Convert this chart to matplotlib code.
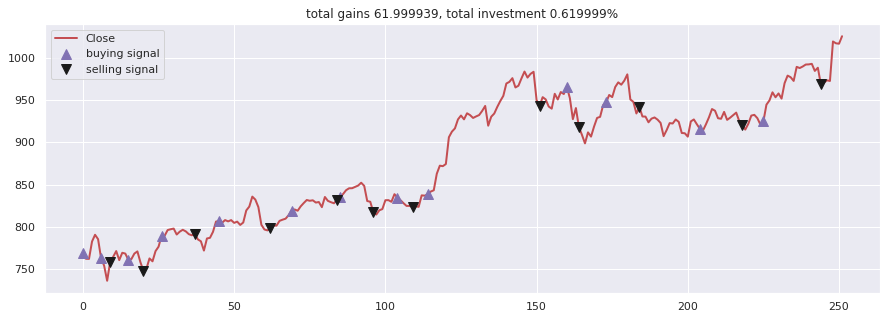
import matplotlib
matplotlib.use("Agg")
import matplotlib.pyplot as plt
import seaborn as sns

close = [
    768.70, 762.13, 762.02, 782.52, 790.51, 785.31, 762.56, 754.02, 736.08, 758.49,
    764.48, 771.23, 760.54, 769.20, 768.27, 760.99, 761.68, 768.24, 770.84, 758.04,
    747.92, 750.50, 762.52, 759.11, 771.19, 776.42, 789.29, 789.27, 796.10, 797.07,
    797.85, 790.80, 794.20, 796.42, 794.56, 791.26, 789.91, 791.55, 785.05, 782.79,
    771.82, 786.14, 786.90, 794.02, 806.15, 806.65, 804.79, 807.91, 806.36, 807.88,
    804.61, 806.07, 802.17, 805.02, 819.31, 823.87, 835.67, 832.15, 823.31, 802.32,
    796.79, 795.70, 798.53, 801.49, 801.34, 806.97, 808.38, 809.56, 813.67, 819.24,
    820.45, 818.98, 824.16, 828.07, 831.66, 830.76, 831.33, 828.64, 829.28, 823.21,
    835.24, 830.63, 829.08, 827.78, 831.91, 835.37, 838.68, 843.25, 845.54, 845.62,
    847.20, 848.78, 852.12, 848.40, 830.46, 829.59, 817.58, 814.43, 819.51, 820.92,
    831.41, 831.50, 829.56, 838.55, 834.57, 831.41, 827.88, 824.67, 824.73, 823.35,
    824.32, 823.56, 837.17, 836.82, 838.21, 841.65, 843.19, 862.76, 872.30, 871.73,
    874.25, 905.96, 912.57, 916.44, 927.04, 931.66, 927.13, 934.30, 932.17, 928.78,
    930.60, 932.22, 937.08, 943.00, 919.62, 930.24, 934.01, 941.86, 948.82, 954.96,
    969.54, 971.47, 975.88, 964.86, 966.95, 975.60, 983.68, 976.57, 980.94, 983.41,
    949.83, 942.90, 953.40, 950.76, 942.31, 939.78, 957.37, 950.63, 959.45, 957.09,
    965.59, 952.27, 927.33, 940.49, 917.79, 908.73, 898.70, 911.71, 906.69, 918.59,
    928.80, 930.09, 943.83, 947.16, 955.99, 953.42, 965.40, 970.89, 968.15, 972.92,
    980.34, 950.70, 947.80, 934.09, 941.53, 930.50, 930.39, 923.65, 927.96, 929.36,
    926.79, 922.90, 907.24, 914.39, 922.67, 922.22, 926.96, 924.14, 910.98, 910.67,
    906.66, 924.69, 927.00, 921.28, 915.89, 913.81, 921.29, 929.57, 939.33, 937.34,
    928.45, 927.81, 935.95, 926.50, 929.08, 932.07, 935.09, 925.11, 920.29, 915.00,
    921.81, 931.58, 932.45, 928.53, 920.97, 924.86, 944.49, 949.50, 959.11, 953.27,
    957.79, 951.68, 969.96, 978.89, 977.00, 972.60, 989.25, 987.83, 989.68, 992.00,
    992.18, 992.81, 984.45, 988.20, 968.45, 970.54, 973.33, 972.56, 1019.27, 1017.11,
    1016.64, 1025.50,
]

states_buy = [0, 6, 15, 26, 45, 69, 85, 104, 114, 160, 173, 204, 225]
states_sell = [9, 20, 37, 62, 84, 96, 109, 151, 164, 184, 218, 244]

total_gains = 61.999939
invest = 0.619999

sns.set()
plt.rcParams['font.family'] = ['DejaVu Sans']

W, H = 894, 321
fig = plt.figure(figsize=(W / 72, H / 72), dpi=72)
ax = fig.add_axes([45 / W, (H - 293) / H, 835 / W, 269 / H])

ax.plot(close, color='#C44E52', lw=2., label='Close')
ax.plot(close, '^', markersize=10, color='#8172B3', label='buying signal', markevery=states_buy)
ax.plot(close, 'v', markersize=10, color='k', label='selling signal', markevery=states_sell)
ax.set_title('total gains %f, total investment %f%%' % (total_gains, invest))
ax.legend(loc='upper left')

fig.savefig('out.png', dpi=72)
